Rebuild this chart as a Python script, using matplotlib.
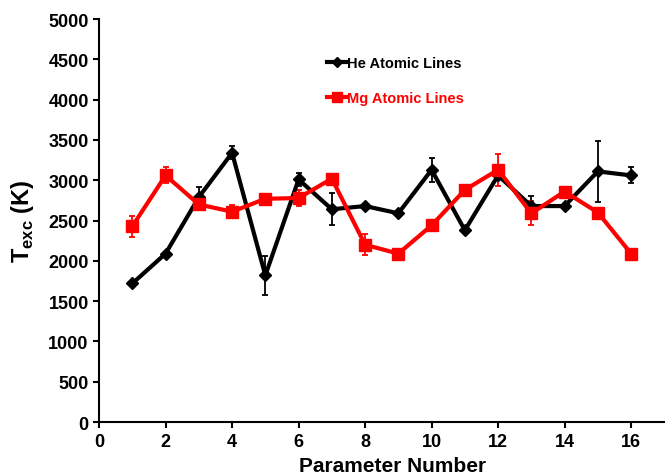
import numpy as np
import matplotlib.pyplot as plt

plt.rcParams['font.family'] = ['Liberation Sans', 'DejaVu Sans']
plt.rcParams['font.weight'] = 'bold'
plt.rcParams['mathtext.fontset'] = 'custom'
plt.rcParams['mathtext.rm'] = 'Liberation Sans:bold'
plt.rcParams['mathtext.bf'] = 'Liberation Sans:bold'

# data
param = np.arange(1, 17)
he_vals = [1720, 2090, 2790, 3340, 1820, 3010, 2640, 2680, 2590, 3130, 2380, 3060, 2680, 2680, 3110, 3060]
he_err = [0, 0, 130, 80, 240, 80, 200, 0, 0, 150, 0, 0, 130, 0, 380, 100]
mg_vals = [2430, 3060, 2700, 2610, 2770, 2780, 3020, 2200, 2090, 2440, 2880, 3130, 2590, 2860, 2600, 2090]
mg_err = [130, 100, 0, 80, 0, 100, 0, 130, 0, 0, 0, 200, 150, 0, 0, 0]
labels = ['He Atomic Lines', 'Mg Atomic Lines']

fig = plt.figure(figsize=(6.65, 4.77), dpi=100)
ax = fig.add_axes([0.149, 0.113, 0.85, 0.845])

he = ax.errorbar(param, he_vals, yerr=he_err, color='black', marker='D', markersize=6,
                 linewidth=3, elinewidth=1.3, capsize=2.5, capthick=1.3)
mg = ax.errorbar(param, mg_vals, yerr=mg_err, color='#ff0000', marker='s', markersize=9,
                 linewidth=3, elinewidth=1.3, capsize=2.5, capthick=1.3)

ax.set_xlim(0, 17)
ax.set_ylim(0, 5000)
ax.set_xticks(range(0, 17, 2))
ax.set_yticks(range(0, 5001, 500))
ax.spines['top'].set_visible(False)
ax.spines['right'].set_visible(False)
ax.spines['left'].set_linewidth(1.5)
ax.spines['bottom'].set_linewidth(1.5)
ax.tick_params(direction='out', width=1.5, length=4, labelsize=13)
for lab in ax.get_xticklabels() + ax.get_yticklabels():
    lab.set_fontweight('bold')

ax.set_xlabel('Parameter Number', fontsize=15, fontweight='bold')
ax.xaxis.set_label_coords(0.52, -0.085)
ax.set_ylabel(r'T$_{\mathbf{exc}}$ (K)', fontsize=17, fontweight='bold')
ax.yaxis.set_label_coords(-0.112, 0.5)

leg = ax.legend([he[0], mg[0]], labels, loc='upper left', bbox_to_anchor=(0.403, 0.908),
                frameon=False, borderpad=0, borderaxespad=0,
                handlelength=1.35, handletextpad=0.05, labelspacing=1.45,
                prop={'size': 10.5, 'weight': 'bold'}, markerscale=0.8)
for txt, c in zip(leg.get_texts(), ['black', '#ff0000']):
    txt.set_color(c)

fig.savefig('out.png', dpi=100)
